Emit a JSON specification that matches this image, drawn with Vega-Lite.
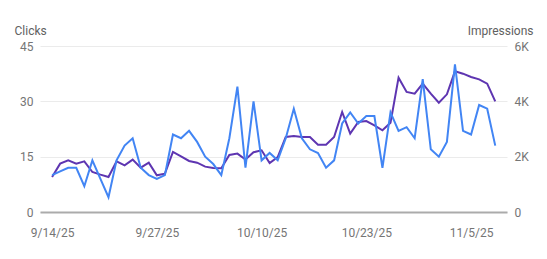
{
  "$schema": "https://vega.github.io/schema/vega-lite/v6.json",
  "width": 467,
  "height": 166,
  "autosize": {"type": "none"},
  "padding": {"left": 40, "top": 46, "right": 40, "bottom": 47},
  "config": {
    "view": {"stroke": null},
    "font": "Roboto",
    "axis": {
      "labelFont": "Roboto",
      "titleFont": "Roboto",
      "labelColor": "#757575",
      "titleColor": "#616161",
      "labelFontSize": 12,
      "titleFontSize": 12,
      "titleFontWeight": "normal"
    }
  },
  "data": {
    "values": [
      {"date": "2025-09-14", "clicks": 10, "impressions": 1265},
      {"date": "2025-09-15", "clicks": 11, "impressions": 1747},
      {"date": "2025-09-16", "clicks": 12, "impressions": 1868},
      {"date": "2025-09-17", "clicks": 12, "impressions": 1747},
      {"date": "2025-09-18", "clicks": 7, "impressions": 1831},
      {"date": "2025-09-19", "clicks": 14, "impressions": 1446},
      {"date": "2025-09-20", "clicks": 9, "impressions": 1350},
      {"date": "2025-09-21", "clicks": 4, "impressions": 1265},
      {"date": "2025-09-22", "clicks": 14, "impressions": 1831},
      {"date": "2025-09-23", "clicks": 18, "impressions": 1687},
      {"date": "2025-09-24", "clicks": 20, "impressions": 1892},
      {"date": "2025-09-25", "clicks": 12, "impressions": 1603},
      {"date": "2025-09-26", "clicks": 10, "impressions": 1783},
      {"date": "2025-09-27", "clicks": 9, "impressions": 1325},
      {"date": "2025-09-28", "clicks": 10, "impressions": 1386},
      {"date": "2025-09-29", "clicks": 21, "impressions": 2169},
      {"date": "2025-09-30", "clicks": 20, "impressions": 2012},
      {"date": "2025-10-01", "clicks": 22, "impressions": 1844},
      {"date": "2025-10-02", "clicks": 19, "impressions": 1783},
      {"date": "2025-10-03", "clicks": 15, "impressions": 1640},
      {"date": "2025-10-04", "clicks": 13, "impressions": 1590},
      {"date": "2025-10-05", "clicks": 10, "impressions": 1578},
      {"date": "2025-10-06", "clicks": 20, "impressions": 2060},
      {"date": "2025-10-07", "clicks": 34, "impressions": 2110},
      {"date": "2025-10-08", "clicks": 12, "impressions": 1895},
      {"date": "2025-10-09", "clicks": 30, "impressions": 2160},
      {"date": "2025-10-10", "clicks": 14, "impressions": 2229},
      {"date": "2025-10-11", "clicks": 16, "impressions": 1771},
      {"date": "2025-10-12", "clicks": 14, "impressions": 1988},
      {"date": "2025-10-13", "clicks": 20, "impressions": 2711},
      {"date": "2025-10-14", "clicks": 28, "impressions": 2747},
      {"date": "2025-10-15", "clicks": 20, "impressions": 2711},
      {"date": "2025-10-16", "clicks": 17, "impressions": 2711},
      {"date": "2025-10-17", "clicks": 16, "impressions": 2434},
      {"date": "2025-10-18", "clicks": 12, "impressions": 2434},
      {"date": "2025-10-19", "clicks": 14, "impressions": 2711},
      {"date": "2025-10-20", "clicks": 24, "impressions": 3615},
      {"date": "2025-10-21", "clicks": 27, "impressions": 2832},
      {"date": "2025-10-22", "clicks": 24, "impressions": 3253},
      {"date": "2025-10-23", "clicks": 26, "impressions": 3285},
      {"date": "2025-10-24", "clicks": 26, "impressions": 3133},
      {"date": "2025-10-25", "clicks": 12, "impressions": 2952},
      {"date": "2025-10-26", "clicks": 27, "impressions": 3229},
      {"date": "2025-10-27", "clicks": 22, "impressions": 4856},
      {"date": "2025-10-28", "clicks": 23, "impressions": 4338},
      {"date": "2025-10-29", "clicks": 20, "impressions": 4278},
      {"date": "2025-10-30", "clicks": 36, "impressions": 4639},
      {"date": "2025-10-31", "clicks": 17, "impressions": 4278},
      {"date": "2025-11-01", "clicks": 15, "impressions": 3952},
      {"date": "2025-11-02", "clicks": 19, "impressions": 4253},
      {"date": "2025-11-03", "clicks": 40, "impressions": 5085},
      {"date": "2025-11-04", "clicks": 22, "impressions": 5000},
      {"date": "2025-11-05", "clicks": 21, "impressions": 4880},
      {"date": "2025-11-06", "clicks": 29, "impressions": 4796},
      {"date": "2025-11-07", "clicks": 28, "impressions": 4639},
      {"date": "2025-11-08", "clicks": 18, "impressions": 4000}
    ]
  },
  "encoding": {
    "x": {
      "field": "date",
      "type": "temporal",
      "scale": {
        "type": "utc",
        "domain": [
          {"year": 2025, "month": 9, "date": 12, "hours": 12, "utc": true},
          {"year": 2025, "month": 11, "date": 9, "hours": 11, "utc": true}
        ]
      },
      "axis": {
        "title": null,
        "values": [
          {"year": 2025, "month": 9, "date": 14, "utc": true},
          {"year": 2025, "month": 9, "date": 27, "utc": true},
          {"year": 2025, "month": 10, "date": 10, "utc": true},
          {"year": 2025, "month": 10, "date": 23, "utc": true},
          {"year": 2025, "month": 11, "date": 5, "utc": true}
        ],
        "labelExpr": "utcFormat(datum.value, '%-m/%-d/%y')",
        "grid": false,
        "ticks": false,
        "domainColor": "#ababab",
        "domainWidth": 2,
        "labelPadding": 15,
        "labelFlush": false,
        "labelOverlap": false
      }
    }
  },
  "layer": [
    {
      "mark": {"type": "line", "color": "#5e35b1", "strokeWidth": 2},
      "encoding": {
        "y": {
          "field": "impressions",
          "type": "quantitative",
          "scale": {"domain": [0, 6000], "nice": false},
          "axis": {
            "orient": "right",
            "values": [0, 2000, 4000, 6000],
            "labelExpr": "datum.value == 0 ? '0' : (datum.value / 1000) + 'K'",
            "grid": false,
            "domain": false,
            "ticks": false,
            "labelPadding": 7,
            "title": "Impressions",
            "titleAngle": 0,
            "titleAlign": "right",
            "titleBaseline": "alphabetic",
            "titleX": 26,
            "titleY": -12
          }
        }
      }
    },
    {
      "mark": {"type": "line", "color": "#4285f4", "strokeWidth": 2},
      "encoding": {
        "y": {
          "field": "clicks",
          "type": "quantitative",
          "scale": {"domain": [0, 45], "nice": false},
          "axis": {
            "orient": "left",
            "values": [0, 15, 30, 45],
            "grid": true,
            "gridColor": "#ebebeb",
            "gridWidth": 1,
            "domain": false,
            "ticks": false,
            "labelPadding": 7,
            "title": "Clicks",
            "titleAngle": 0,
            "titleAlign": "left",
            "titleBaseline": "alphabetic",
            "titleX": -26,
            "titleY": -12
          }
        }
      }
    }
  ],
  "resolve": {"scale": {"y": "independent"}}
}
